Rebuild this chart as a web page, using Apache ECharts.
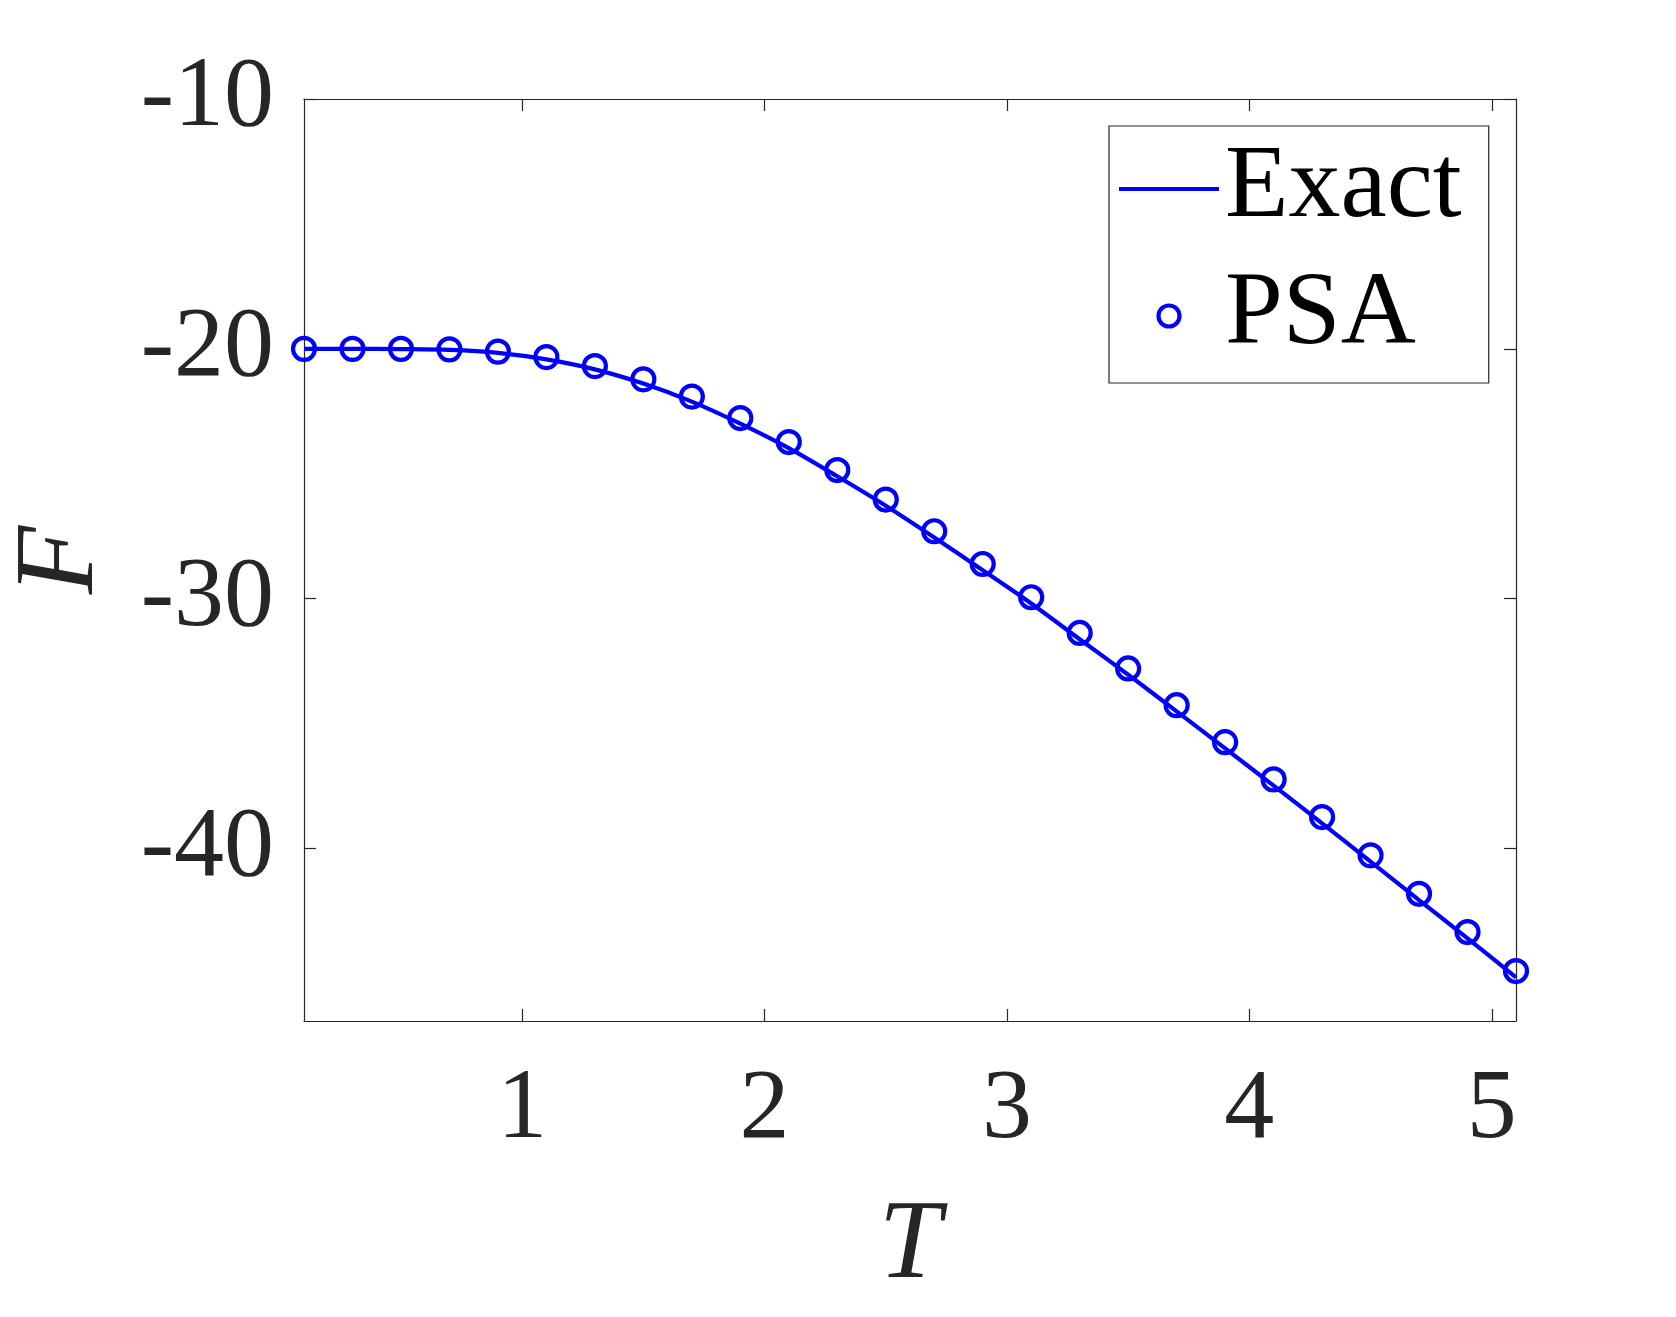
<!DOCTYPE html>
<html>
<head>
<meta charset="utf-8">
<script src="https://cdn.jsdelivr.net/npm/echarts@6/dist/echarts.min.js"></script>
<style>
html,body{margin:0;padding:0;background:#fff;}
#chart{width:1676px;height:1317px;}
</style>
</head>
<body>
<div id="chart"></div>
<script>
const T = [0.1,0.3,0.5,0.7,0.9,1.1,1.3,1.5,1.7,1.9,2.1,2.3,2.5,2.7,2.9,3.1,3.3,3.5,3.7,3.9,4.1,4.3,4.5,4.7,4.9,5.1];
const exactF = [-20.00,-20.00,-20.01,-20.04,-20.16,-20.42,-20.82,-21.39,-22.11,-22.99,-23.97,-25.10,-26.28,-27.55,-28.86,-30.19,-31.62,-33.04,-34.51,-35.99,-37.48,-38.99,-40.52,-42.06,-43.59,-45.15];
const psaF = [-20.00,-20.00,-20.00,-20.02,-20.11,-20.33,-20.69,-21.22,-21.91,-22.77,-23.73,-24.85,-26.03,-27.30,-28.61,-29.94,-31.37,-32.79,-34.26,-35.74,-37.23,-38.74,-40.27,-41.81,-43.34,-44.90];
const xTicks = [1,2,3,4,5];
const yTicks = [-40,-30,-20,-10];
const seriesNames = ['Exact','PSA'];

const FONT = '"Liberation Serif", "DejaVu Serif", serif';
const AX = '#262626';
const BLUE = '#0000ff';

const axisLine = {show:true, onZero:false, lineStyle:{color:AX, width:1.2}};
const tickStyle = {color:AX, width:1.2};

const chart = echarts.init(document.getElementById('chart'), null, {renderer:'canvas'});
chart.setOption({
  animation:false,
  backgroundColor:'#fff',
  grid:{left:304, top:99, right:160, bottom:296, containLabel:false, outerBoundsMode:'none'},
  xAxis:[
    {type:'value', min:0.1, max:5.1, position:'bottom', axisLine:axisLine,
     axisTick:{show:true, inside:true, length:12, customValues:xTicks, lineStyle:tickStyle},
     axisLabel:{show:true, customValues:xTicks, margin:90, verticalAlign:'middle', fontFamily:FONT, fontSize:100, color:AX},
     splitLine:{show:false},
     name:'T', nameLocation:'middle', nameGap:227,
     nameTextStyle:{fontFamily:FONT, fontStyle:'italic', fontSize:112, color:AX, verticalAlign:'middle', align:'center'}},
    {type:'value', min:0.1, max:5.1, position:'top', axisLine:axisLine,
     axisTick:{show:true, inside:true, length:12, customValues:xTicks, lineStyle:tickStyle},
     axisLabel:{show:false}, splitLine:{show:false}}
  ],
  yAxis:[
    {type:'value', min:-46.9, max:-10, position:'left', axisLine:axisLine,
     axisTick:{show:true, inside:true, length:12, customValues:yTicks, lineStyle:tickStyle},
     axisLabel:{show:true, customValues:yTicks, margin:30, fontFamily:FONT, fontSize:100, color:AX},
     splitLine:{show:false},
     name:'F', nameLocation:'middle', nameGap:241,
     nameTextStyle:{fontFamily:FONT, fontStyle:'italic', fontSize:112, color:AX, verticalAlign:'middle', align:'center'}},
    {type:'value', min:-46.9, max:-10, position:'right', axisLine:axisLine,
     axisTick:{show:true, inside:true, length:12, customValues:yTicks, lineStyle:tickStyle},
     axisLabel:{show:false}, splitLine:{show:false}}
  ],
  legend:{
    data:[
      {name:seriesNames[0], icon:'path://M0,0L100,0L100,4L0,4Z', itemStyle:{color:BLUE, borderWidth:0}},
      {name:seriesNames[1], icon:'circle', itemStyle:{color:'rgba(0,0,0,0)', borderColor:BLUE, borderWidth:4.2}}
    ],
    orient:'vertical', left:1109, top:126,
    padding:[11,27,15,10], itemGap:23, itemWidth:100, itemHeight:21,
    backgroundColor:'#fff', borderColor:AX, borderWidth:1.2, borderRadius:0,
    textStyle:{fontFamily:FONT, fontSize:104, color:'#000', lineHeight:100, padding:[0,0,0,1]}
  },
  series:[
    {name:seriesNames[0], type:'line', xAxisIndex:0, yAxisIndex:0,
     data:T.map((t,i)=>[t, exactF[i]]), showSymbol:false, symbol:'none',
     smooth:0.3, lineStyle:{color:BLUE, width:4.2}, itemStyle:{color:BLUE}, z:2, clip:false},
    {name:seriesNames[1], type:'scatter', xAxisIndex:0, yAxisIndex:0,
     data:T.map((t,i)=>[t, psaF[i]]), symbol:'circle', symbolSize:22,
     itemStyle:{color:'rgba(0,0,0,0)', borderColor:BLUE, borderWidth:4.2, opacity:1}, z:3, clip:false}
  ]
});
</script>
</body>
</html>
